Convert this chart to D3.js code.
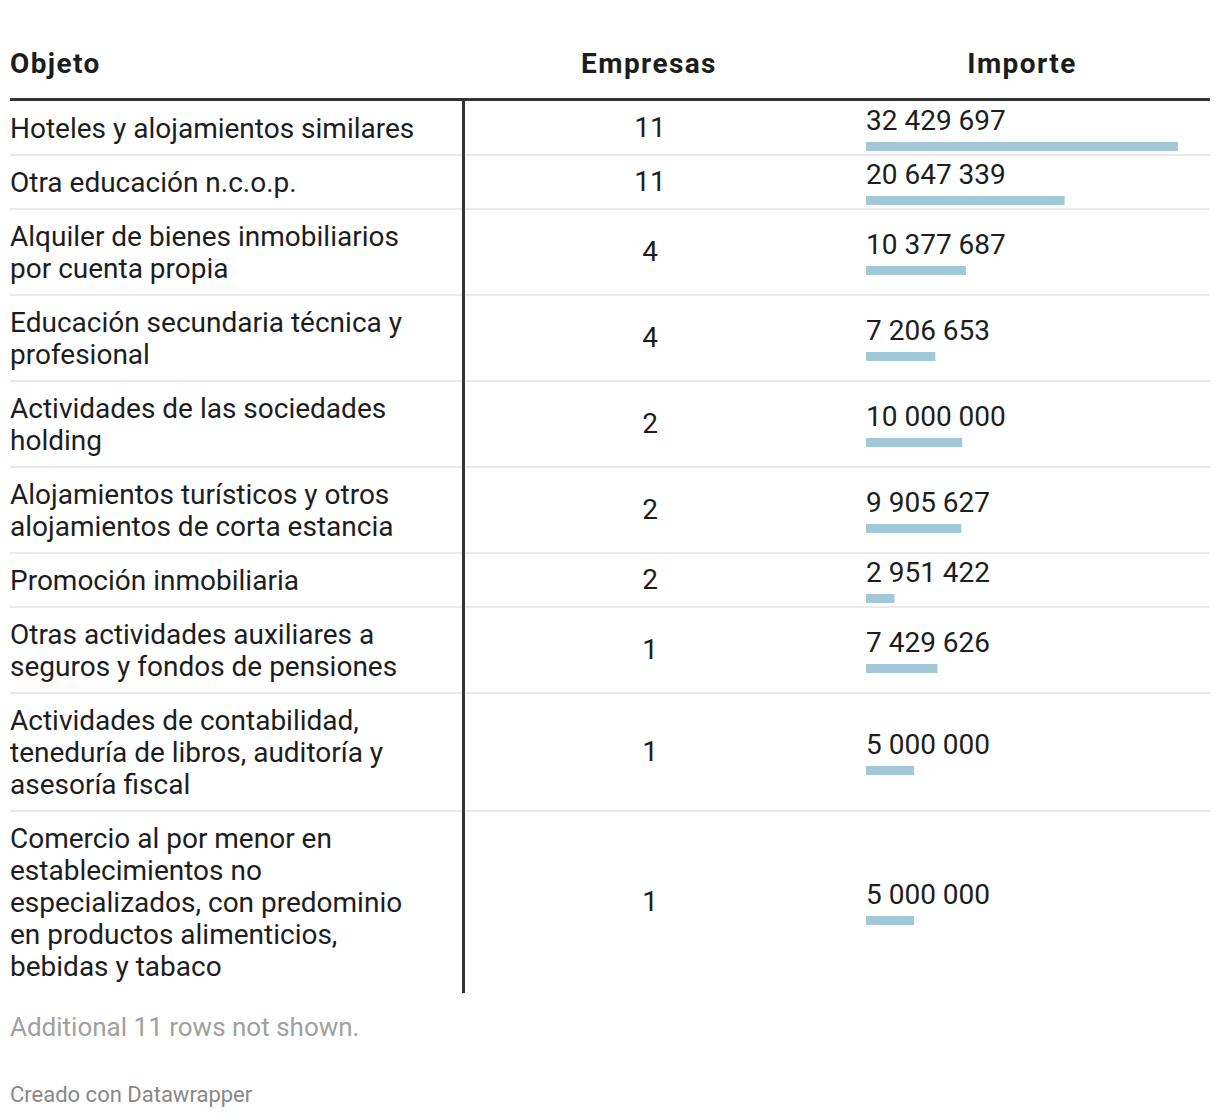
<!DOCTYPE html>
<html>
<head>
<meta charset="utf-8">
<script src="https://cdn.jsdelivr.net/npm/d3@7"></script>
<style>
  body { margin: 0; background: #fff; font-family: Roboto, sans-serif; }
</style>
</head>
<body>
<div id="chart"></div>
<script>
const objetos = [
  "Hoteles y alojamientos similares",
  "Otra educación n.c.o.p.",
  "Alquiler de bienes inmobiliarios por cuenta propia",
  "Educación secundaria técnica y profesional",
  "Actividades de las sociedades holding",
  "Alojamientos turísticos y otros alojamientos de corta estancia",
  "Promoción inmobiliaria",
  "Otras actividades auxiliares a seguros y fondos de pensiones",
  "Actividades de contabilidad, teneduría de libros, auditoría y asesoría fiscal",
  "Comercio al por menor en establecimientos no especializados, con predominio en productos alimenticios, bebidas y tabaco"
];
const empresas = [11, 11, 4, 4, 2, 2, 2, 1, 1, 1];
const importes = [32429697, 20647339, 10377687, 7206653, 10000000, 9905627, 2951422, 7429626, 5000000, 5000000];
const headers = ["Objeto", "Empresas", "Importe"];
const nota = "Additional 11 rows not shown.";
const credito = "Creado con Datawrapper";

const width = 1220;
const height = 1118;
const fontSize = 28;
const lineH = 32;
const pad = 11;
const wrapWidth = 425;

const svg = d3.select("#chart").append("svg")
  .attr("width", width).attr("height", height)
  .style("font-family", "Roboto, sans-serif");

// measure text to wrap labels
const measure = svg.append("text").attr("font-size", fontSize).attr("visibility", "hidden");
function textWidth(s) { measure.text(s); return measure.node().getComputedTextLength(); }
function wrap(s) {
  const words = s.split(" ");
  const lines = [];
  let cur = "";
  words.forEach(w => {
    const test = cur ? cur + " " + w : w;
    if (cur && textWidth(test) > wrapWidth) { lines.push(cur); cur = w; }
    else cur = test;
  });
  if (cur) lines.push(cur);
  return lines;
}

const rows = objetos.map((o, i) => ({ objeto: o, lines: wrap(o), empresas: empresas[i], importe: importes[i] }));
measure.remove();

let y = 101;
rows.forEach(r => { r.y0 = y; r.h = r.lines.length * lineH + 2 * pad; y += r.h; });
const tableBottom = y;

const fmt = v => d3.format(",")(v).replace(/,/g, " ");
const x = d3.scaleLinear().domain([0, d3.max(importes)]).range([0, 312]);
const barX = 866;

// header
const headerX = [10, 649, 1022];
svg.selectAll("text.header").data(headers).join("text")
  .attr("class", "header")
  .attr("x", (d, i) => headerX[i])
  .attr("y", 73)
  .attr("text-anchor", (d, i) => i === 0 ? "start" : "middle")
  .attr("font-size", fontSize).attr("font-weight", 700).attr("fill", "#1d1d1d")
  .attr("letter-spacing", 1.4)
  .text(d => d);

svg.append("rect").attr("x", 10).attr("y", 98).attr("width", 1200).attr("height", 3).attr("fill", "#333");

const row = svg.append("g").selectAll("g").data(rows).join("g")
  .attr("transform", d => `translate(0,${d.y0})`);

row.filter((d, i) => i < rows.length - 1).append("rect")
  .attr("x", 10).attr("y", d => d.h - 1).attr("width", 1200).attr("height", 2).attr("fill", "#eaeaea");

row.append("text")
  .attr("font-size", fontSize).attr("fill", "#1d1d1d")
  .selectAll("tspan").data(d => d.lines).join("tspan")
  .attr("x", 10).attr("y", (d, i) => 37 + i * lineH)
  .text(d => d);

row.append("text")
  .attr("x", 650).attr("y", d => d.h / 2 + 9)
  .attr("text-anchor", "middle")
  .attr("font-size", fontSize).attr("fill", "#1d1d1d")
  .text(d => d.empresas);

row.append("text")
  .attr("x", barX).attr("y", d => d.h / 2 + 2)
  .attr("font-size", fontSize).attr("fill", "#1d1d1d")
  .text(d => fmt(d.importe));

row.append("rect")
  .attr("x", barX).attr("y", d => d.h / 2 + 14)
  .attr("width", d => x(d.importe)).attr("height", 9)
  .attr("fill", "#a0c8d8");

svg.append("rect").attr("x", 462).attr("y", 101).attr("width", 3).attr("height", tableBottom - 101).attr("fill", "#333");

svg.append("text").attr("x", 10).attr("y", 1036)
  .attr("font-size", 26).attr("fill", "#a0a0a0").text(nota);
svg.append("text").attr("x", 10).attr("y", 1102)
  .attr("font-size", 22).attr("fill", "#888").text(credito);
</script>
</body>
</html>
